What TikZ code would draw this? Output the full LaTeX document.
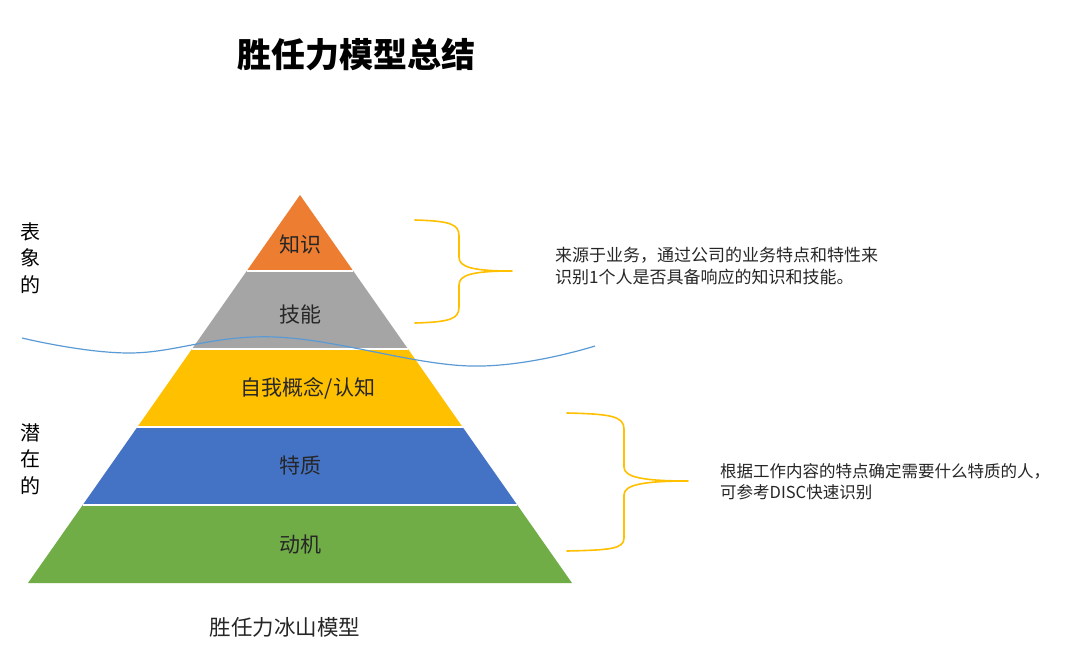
\documentclass[tikz,border=0pt]{standalone}
\usepackage{fontspec}
\setmainfont{Noto Sans CJK SC}
\definecolor{cOrange}{HTML}{ED7D31}
\definecolor{cGray}{HTML}{A5A5A5}
\definecolor{cYellow}{HTML}{FFC000}
\definecolor{cBlue}{HTML}{4472C4}
\definecolor{cGreen}{HTML}{70AD47}
\definecolor{cWave}{HTML}{5B9BD5}
\definecolor{cText}{HTML}{262626}
\tikzset{
  layer/.style={draw=white, line width=1.5pt, line join=miter},
  lbl/.style={inner sep=0pt, text=cText, font=\fontsize{21}{25}\selectfont},
  side/.style={inner sep=0pt, text=black, align=center, font=\fontsize{20}{26.5}\selectfont},
  note/.style={inner sep=0pt, text=cText, align=left, anchor=west},
  brace/.style={draw=cYellow, line width=1.6pt, line cap=round, line join=round},
  wave/.style={draw=cWave, line width=1.2pt}
}
\begin{document}
\begin{tikzpicture}[x=1pt,y=-1pt]
\useasboundingbox[fill=white] (0,0) rectangle (1080,659);
% pyramid layers
\fill[cOrange] (300,195) -- (353.3,271) -- (246.7,271) -- cycle;
\fill[cGray] (246.7,271) -- (353.3,271) -- (408,349) -- (192,349) -- cycle;
\fill[cYellow] (192,349) -- (408,349) -- (462.6,427) -- (137.4,427) -- cycle;
\fill[cBlue] (137.4,427) -- (462.6,427) -- (517.3,505) -- (82.7,505) -- cycle;
\fill[cGreen] (82.7,505) -- (517.3,505) -- (572,583) -- (28,583) -- cycle;
\draw[white, line width=1.6pt] (246.7,271) -- (353.3,271);
\draw[white, line width=1.6pt] (192,349) -- (408,349);
\draw[white, line width=1.6pt] (137.4,427) -- (462.6,427);
\draw[white, line width=1.6pt] (82.7,505) -- (517.3,505);
% labels
\node[lbl] (zhishi) at (300,244) {知识};
\node[lbl] (jineng) at (300,315) {技能};
\node[lbl] (ziwo) at (308,388) {自我概念/认知};
\node[lbl] (tezhi) at (300,466) {特质};
\node[lbl] (dongji) at (300,545) {动机};
% wave
\draw[wave] plot[smooth, tension=0.65] coordinates {(22,338) (130,353) (275,337) (470,366) (595,346)};
% side labels
\node[side] (biao) at (30,258) {表\\象\\的};
\node[side] (qian) at (30,459) {潜\\在\\的};
% title & caption
\node[inner sep=0pt, font=\fontsize{34}{38}\selectfont\bfseries] (title) at (356,55) {胜任力模型总结};
\node[inner sep=0pt, text=cText, font=\fontsize{21.5}{25}\selectfont] (caption) at (285,627) {胜任力冰山模型};
% braces
\draw[brace] (415,220) .. controls (450,221) and (459,224) .. (459,236) -- (459,257)
  .. controls (459,267) and (472,271) .. (512,271)
  .. controls (472,271) and (459,275) .. (459,285) -- (459,307)
  .. controls (459,319) and (450,322) .. (415,323);
\coordinate (tip1) at (512,271);
\draw[brace] (567,413) .. controls (610,414) and (624,416) .. (624,429) -- (624,467)
  .. controls (624,477) and (642,481) .. (688,481)
  .. controls (642,481) and (624,485) .. (624,495) -- (624,538)
  .. controls (624,549) and (610,550) .. (567,551);
\coordinate (tip2) at (688,481);
% notes
\node[note, font=\fontsize{17}{22.5}\selectfont] (note1) at (555,266) {来源于业务，通过公司的业务特点和特性来\\识别1个人是否具备响应的知识和技能。};
\node[note, font=\fontsize{16.5}{21}\selectfont] (note2) at (720,482) {根据工作内容的特点确定需要什么特质的人，\\可参考DISC快速识别};
\end{tikzpicture}
\end{document}
